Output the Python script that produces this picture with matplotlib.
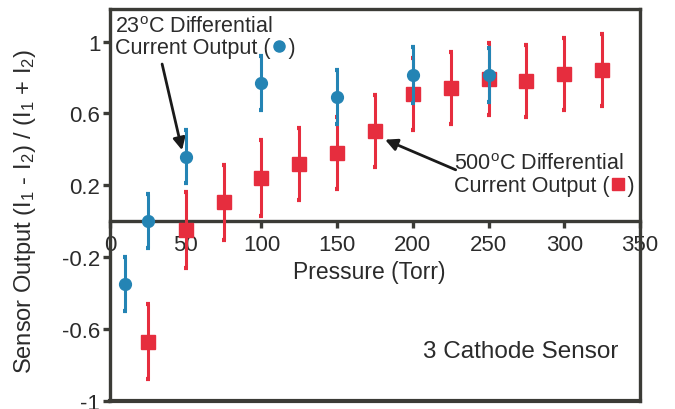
import numpy as np
import matplotlib
matplotlib.use('Agg')
import matplotlib.pyplot as plt

plt.rcParams['font.family'] = ['Liberation Sans', 'DejaVu Sans']
plt.rcParams['mathtext.fontset'] = 'custom'
plt.rcParams['mathtext.rm'] = 'Liberation Sans'
plt.rcParams['mathtext.default'] = 'regular'

# 23 C data (blue circles)
p_23 = [10, 25, 50, 100, 150, 200, 250]
out_23 = [-0.35, 0.0, 0.36, 0.77, 0.69, 0.815, 0.815]
err_23 = [0.15, 0.15, 0.15, 0.15, 0.15, 0.155, 0.15]

# 500 C data (red squares)
p_500 = [25, 50, 75, 100, 125, 150, 175, 200, 225, 250, 275, 300, 325]
out_500 = [-0.67, -0.05, 0.105, 0.24, 0.32, 0.38, 0.50, 0.71, 0.74, 0.79, 0.78, 0.82, 0.84]
err_500 = [0.21, 0.21, 0.21, 0.21, 0.2, 0.2, 0.2, 0.2, 0.2, 0.2, 0.2, 0.2, 0.2]

xticks = [0, 50, 100, 150, 200, 250, 300, 350]
yticks = [-1, -0.6, -0.2, 0.2, 0.6, 1]
ytick_labels = ['-1', '-0.6', '-0.2', '0.2', '0.6', '1']

blue = '#2484b4'
red = '#e62d3e'
dark = '#3b3b36'
txt = '#2b2b2b'
fs = 15.5

fig = plt.figure(figsize=(6.75, 4.1), dpi=100)
ax = fig.add_axes([0.163, 0.02, 0.785, 0.955])

ax.errorbar(p_500, out_500, yerr=err_500, fmt='s', color=red, ms=9.5,
            elinewidth=2.2, capsize=1.5, capthick=3, zorder=3)
ax.errorbar(p_23, out_23, yerr=err_23, fmt='o', color=blue, ms=8.5,
            elinewidth=2.2, capsize=1.5, capthick=3, zorder=4)

ax.set_xlim(0, 350)
ax.set_ylim(-1, 1.18)

for s in ax.spines.values():
    s.set_color(dark)
    s.set_linewidth(2.4)
ax.spines['bottom'].set_position(('data', 0))
ax.axhline(-1, color=dark, lw=3, clip_on=False, zorder=5)

ax.set_xticks(xticks)
ax.set_yticks(yticks)
ax.set_yticklabels(ytick_labels)
ax.tick_params(axis='both', colors=dark, width=2.4, length=5, labelsize=16,
               labelcolor=txt, pad=2)
ax.tick_params(axis='x', pad=4)

ax.set_xlabel('Pressure (Torr)', fontsize=16.5, color=txt)
ax.xaxis.set_label_coords(0.49, 0.36)
ax.set_ylabel('Sensor Output (I$_1$ - I$_2$) / (I$_1$ + I$_2$)', fontsize=17,
              color=txt)
ax.yaxis.set_label_coords(-0.135, 0.487)

# annotations
ax.annotate('', xy=(48, 0.38), xytext=(34, 0.89),
            arrowprops=dict(arrowstyle='-|>', color='#1a1a1a', lw=2,
                            mutation_scale=18))
t1 = ax.text(3, 1.145, '23$^o$C Differential\nCurrent Output (   )', fontsize=fs,
             color=txt, va='top', ha='left', linespacing=1.05)

ax.annotate('', xy=(180, 0.46), xytext=(230, 0.28),
            arrowprops=dict(arrowstyle='-|>', color='#1a1a1a', lw=2,
                            mutation_scale=18))
t2 = ax.text(227, 0.38, '500$^o$C Differential\nCurrent Output (   )', fontsize=fs,
             color=txt, va='top', ha='left', linespacing=1.05)

ax.text(0.96, 0.128, '3 Cathode Sensor', fontsize=17.5, color=txt,
        ha='right', va='center', transform=ax.transAxes)

# legend glyphs inside the parentheses of the annotation texts
fig.canvas.draw()
r = fig.canvas.get_renderer()
for t, mk, col, size in [(t1, 'o', blue, 8), (t2, 's', red, 8.5)]:
    bb = t.get_window_extent(r)
    pos = ax.transAxes.inverted().transform((bb.x1 - 16.5, bb.y0 + 12))
    ax.plot([pos[0]], [pos[1]], mk, color=col, ms=size,
            transform=ax.transAxes, clip_on=False)

fig.savefig('out.png', dpi=100)
